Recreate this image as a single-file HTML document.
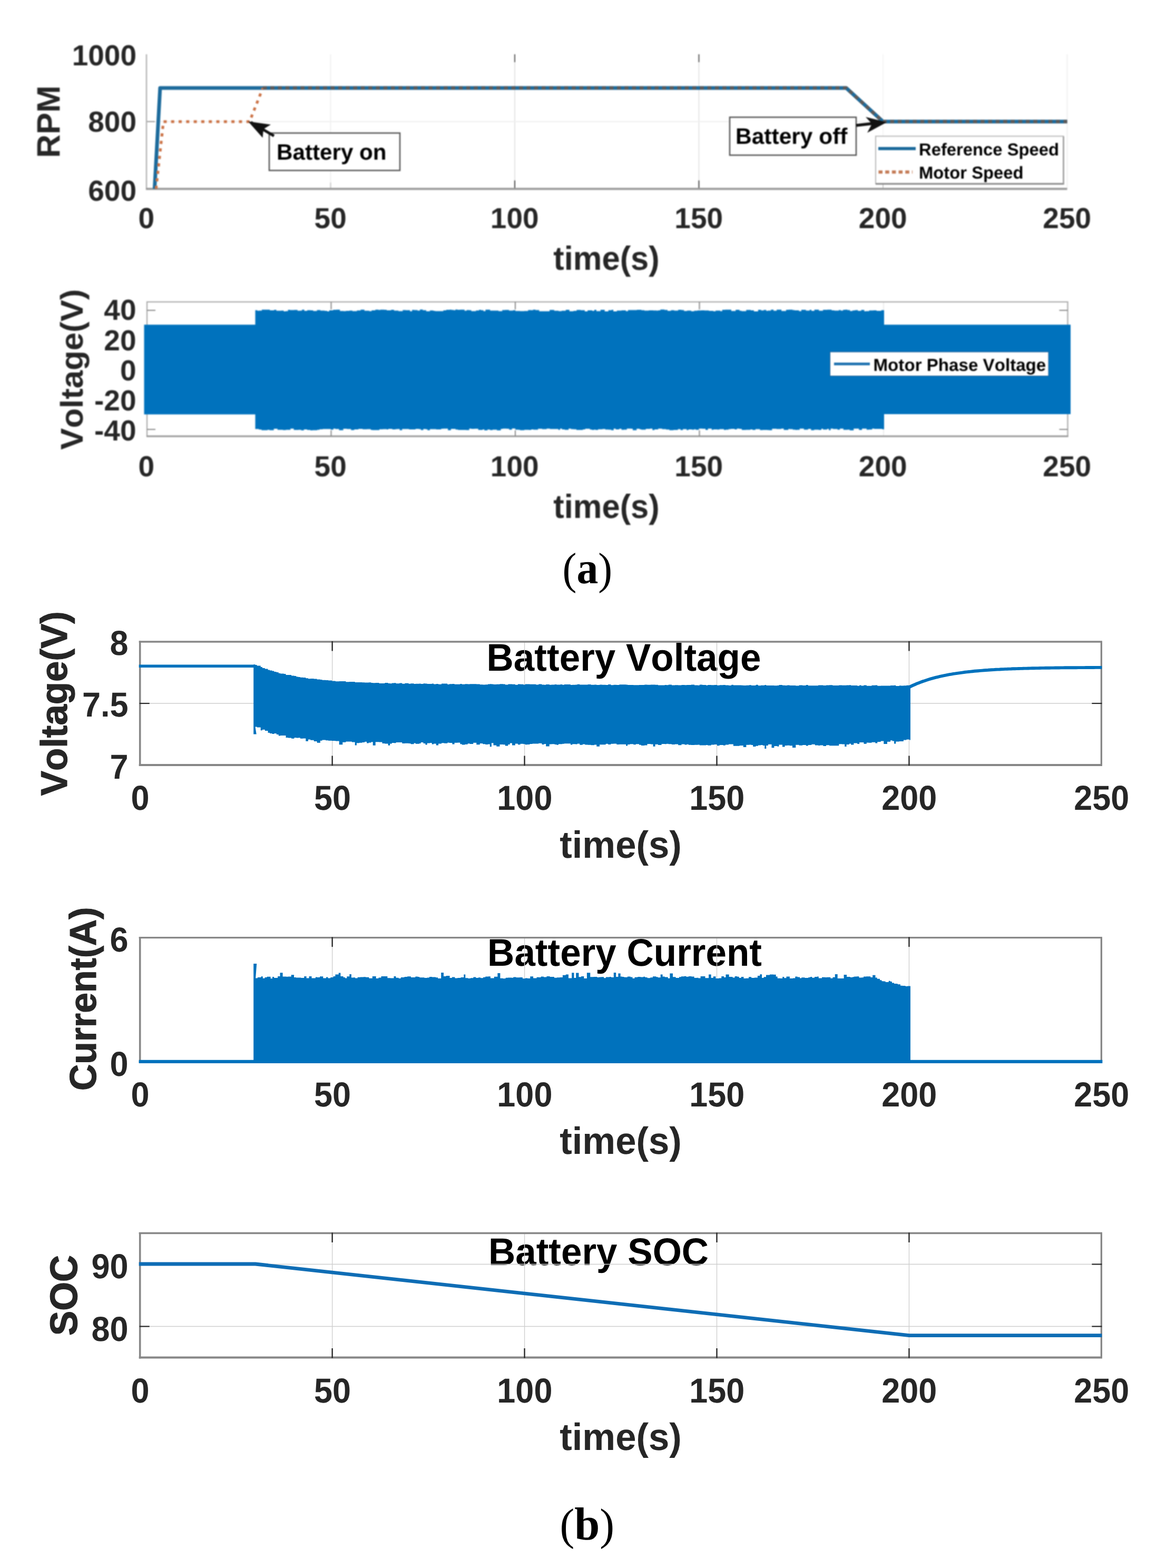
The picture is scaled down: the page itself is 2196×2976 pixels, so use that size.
<!DOCTYPE html>
<html><head><meta charset="utf-8"><title>Figure</title>
<style>html,body{margin:0;padding:0;background:#fff}svg{display:block}text{font-kerning:none;font-feature-settings:"kern" 0;text-rendering:geometricPrecision}</style></head>
<body>
<svg width="2196" height="2976" viewBox="0 0 2196 2976">
<rect width="2196" height="2976" fill="#ffffff"/>
<defs><filter id="soft" color-interpolation-filters="sRGB" filterUnits="userSpaceOnUse" x="0" y="0" width="2196" height="1020"><feGaussianBlur stdDeviation="1.0" color-interpolation-filters="sRGB"/></filter></defs>
<g id="pa" filter="url(#soft)">
<line x1="627.5" y1="103" x2="627.5" y2="358.5" stroke="#ececec" stroke-width="1.6" />
<line x1="977.0" y1="103" x2="977.0" y2="358.5" stroke="#dedede" stroke-width="1.6" />
<line x1="1326.5" y1="103" x2="1326.5" y2="358.5" stroke="#dedede" stroke-width="1.6" />
<line x1="1676.0" y1="103" x2="1676.0" y2="358.5" stroke="#f4f4f4" stroke-width="1.6" />
<line x1="278" y1="230.75" x2="2025.5" y2="230.75" stroke="#efefef" stroke-width="2" />
<line x1="2025.5" y1="103" x2="2025.5" y2="358.5" stroke="#f0f0f0" stroke-width="2" />
<line x1="977.0" y1="103" x2="977.0" y2="118" stroke="#555" stroke-width="2" />
<line x1="977.0" y1="358.5" x2="977.0" y2="342.5" stroke="#444" stroke-width="2" />
<line x1="1326.5" y1="103" x2="1326.5" y2="118" stroke="#555" stroke-width="2" />
<line x1="1326.5" y1="358.5" x2="1326.5" y2="342.5" stroke="#444" stroke-width="2" />
<line x1="627.5" y1="358.5" x2="627.5" y2="346.5" stroke="#c8c8c8" stroke-width="2" />
<line x1="1676.0" y1="358.5" x2="1676.0" y2="346.5" stroke="#c8c8c8" stroke-width="2" />
<line x1="278" y1="230.75" x2="294" y2="230.75" stroke="#9a9a9a" stroke-width="2" />
<line x1="278" y1="103" x2="278" y2="359.5" stroke="#b4b4b4" stroke-width="2.5" />
<line x1="277" y1="358.5" x2="2025.5" y2="358.5" stroke="#9a9a9a" stroke-width="4" />
<polyline points="293.4,358.5 303.9,166.9 1606.1,166.9 1676.0,230.8 2025.5,230.8" fill="none" stroke="#1d6b9c" stroke-width="7" stroke-linejoin="round"/>
<polyline points="296.2,358.5 310.2,230.8 473.7,230.8 498.9,166.9" fill="none" stroke="#cc7448" stroke-width="5.2" stroke-dasharray="6 8.3" stroke-linejoin="round"/>
<polyline points="498.9,166.9 1606.1,166.9 1676.0,230.8 2025.5,230.8" fill="none" stroke="#6e5648" stroke-width="6.4" stroke-dasharray="7.5 6.8" stroke-linejoin="round" opacity="0.8"/>
<rect x="511" y="252.5" width="248" height="71" fill="#ffffff" stroke="#555555" stroke-width="2.5" />
<text transform="translate(525.00,303.00) scale(1,1.0)" font-size="42.2" text-anchor="start" fill="#000" font-weight="bold" font-family='"Liberation Sans", Arial, Helvetica, sans-serif' >Battery on</text>
<path d="M520 258 L476 232" stroke="#111" stroke-width="5" fill="none"/>
<path d="M471 230.5 L514 236.5 L500 245 L498.5 261.5 Z" fill="#111"/>
<rect x="1385" y="222.5" width="240" height="72" fill="#ffffff" stroke="#555555" stroke-width="2.5" />
<text transform="translate(1396.00,273.00) scale(1,1.0)" font-size="42.5" text-anchor="start" fill="#000" font-weight="bold" font-family='"Liberation Sans", Arial, Helvetica, sans-serif' >Battery off</text>
<path d="M1625 238 L1660 234" stroke="#111" stroke-width="5.5" fill="none"/>
<path d="M1683 232 L1643 222 L1655 235 L1646 252 Z" fill="#111"/>
<rect x="1662" y="258.5" width="356.5" height="90" fill="#ffffff" stroke="#b9b9b9" stroke-width="2" />
<line x1="1662" y1="349" x2="2019.5" y2="349" stroke="#8a8a8a" stroke-width="3" />
<line x1="2018.5" y1="259" x2="2018.5" y2="350" stroke="#9a9a9a" stroke-width="2.5" />
<line x1="1667" y1="282" x2="1738" y2="282" stroke="#1d6b9c" stroke-width="6" />
<line x1="1667.5" y1="326.5" x2="1732" y2="326.5" stroke="#c47a55" stroke-width="6" stroke-dasharray="7.5 5.2"/>
<text transform="translate(1744.00,295.30) scale(1,1.0)" font-size="32.8" text-anchor="start" fill="#000" font-weight="bold" font-family='"Liberation Sans", Arial, Helvetica, sans-serif' >Reference Speed</text>
<text transform="translate(1744.00,338.90) scale(1,1.0)" font-size="32.8" text-anchor="start" fill="#000" font-weight="bold" font-family='"Liberation Sans", Arial, Helvetica, sans-serif' >Motor Speed</text>
<text transform="translate(259.00,380.98) scale(1,1.0)" font-size="55" text-anchor="end" fill="#262626" font-weight="bold" font-family='"Liberation Sans", Arial, Helvetica, sans-serif' >600</text>
<text transform="translate(259.00,250.17) scale(1,1.0)" font-size="55" text-anchor="end" fill="#262626" font-weight="bold" font-family='"Liberation Sans", Arial, Helvetica, sans-serif' >800</text>
<text transform="translate(259.00,123.97) scale(1,1.0)" font-size="55" text-anchor="end" fill="#262626" font-weight="bold" font-family='"Liberation Sans", Arial, Helvetica, sans-serif' >1000</text>
<text transform="translate(277.70,433.00) scale(1,1.0)" font-size="55" text-anchor="middle" fill="#262626" font-weight="bold" font-family='"Liberation Sans", Arial, Helvetica, sans-serif' >0</text>
<text transform="translate(627.20,433.00) scale(1,1.0)" font-size="55" text-anchor="middle" fill="#262626" font-weight="bold" font-family='"Liberation Sans", Arial, Helvetica, sans-serif' >50</text>
<text transform="translate(976.70,433.00) scale(1,1.0)" font-size="55" text-anchor="middle" fill="#262626" font-weight="bold" font-family='"Liberation Sans", Arial, Helvetica, sans-serif' >100</text>
<text transform="translate(1326.20,433.00) scale(1,1.0)" font-size="55" text-anchor="middle" fill="#262626" font-weight="bold" font-family='"Liberation Sans", Arial, Helvetica, sans-serif' >150</text>
<text transform="translate(1675.70,433.00) scale(1,1.0)" font-size="55" text-anchor="middle" fill="#262626" font-weight="bold" font-family='"Liberation Sans", Arial, Helvetica, sans-serif' >200</text>
<text transform="translate(2025.20,433.00) scale(1,1.0)" font-size="55" text-anchor="middle" fill="#262626" font-weight="bold" font-family='"Liberation Sans", Arial, Helvetica, sans-serif' >250</text>
<text transform="translate(1151.00,511.80) scale(1,1.03)" font-size="61.5" text-anchor="middle" fill="#262626" font-weight="bold" font-family='"Liberation Sans", Arial, Helvetica, sans-serif' >time(s)</text>
<text transform="translate(113.3,231) rotate(-90) scale(1,1.0)" font-size="61.8" text-anchor="middle" fill="#262626" font-weight="bold" font-family='"Liberation Sans", Arial, Helvetica, sans-serif'>RPM</text>
<line x1="628.5" y1="573" x2="628.5" y2="828" stroke="#ececec" stroke-width="2" />
<line x1="978.0" y1="573" x2="978.0" y2="828" stroke="#ececec" stroke-width="2" />
<line x1="1327.5" y1="573" x2="1327.5" y2="828" stroke="#ececec" stroke-width="2" />
<line x1="1677.0" y1="573" x2="1677.0" y2="828" stroke="#ececec" stroke-width="2" />
<rect x="279" y="573" width="1747.5" height="255" fill="none" stroke="#adadad" stroke-width="2.3" />
<line x1="278" y1="828" x2="2027.5" y2="828" stroke="#9a9a9a" stroke-width="3" />
<line x1="279" y1="589.0" x2="295" y2="589.0" stroke="#8a8a8a" stroke-width="2" />
<line x1="2026.5" y1="589.0" x2="2010.5" y2="589.0" stroke="#8a8a8a" stroke-width="2" />
<line x1="279" y1="815.0" x2="295" y2="815.0" stroke="#8a8a8a" stroke-width="2" />
<line x1="2026.5" y1="815.0" x2="2010.5" y2="815.0" stroke="#8a8a8a" stroke-width="2" />
<polygon points="273.5,616.3 484.5,616.3 484.5,588.7 488.4,588.7 488.4,589.8 491.8,589.8 491.8,589.4 497.0,589.4 497.0,587.8 503.1,587.8 503.1,587.7 508.7,587.7 508.7,587.8 512.2,587.8 512.2,589.0 520.2,589.0 520.2,588.0 524.5,588.0 524.5,589.7 533.2,589.7 533.2,589.5 538.6,589.5 538.6,590.9 541.9,590.9 541.9,590.5 546.6,590.5 546.6,588.1 550.3,588.1 550.3,588.6 558.2,588.6 558.2,588.2 564.7,588.2 564.7,589.7 569.9,589.7 569.9,589.4 573.3,589.4 573.3,587.8 577.5,587.8 577.5,589.9 583.1,589.9 583.1,588.7 589.6,588.7 589.6,589.1 594.4,589.1 594.4,590.3 601.6,590.3 601.6,588.4 608.1,588.4 608.1,589.4 616.3,589.4 616.3,590.1 621.0,590.1 621.0,590.9 624.8,590.9 624.8,589.0 632.3,589.0 632.3,588.1 638.2,588.1 638.2,587.7 645.2,587.7 645.2,590.2 651.7,590.2 651.7,590.5 656.6,590.5 656.6,589.9 663.1,589.9 663.1,589.5 668.9,589.5 668.9,590.4 677.5,590.4 677.5,589.2 684.5,589.2 684.5,587.8 691.7,587.8 691.7,589.8 700.7,589.8 700.7,590.4 705.4,590.4 705.4,588.9 712.4,588.9 712.4,587.7 718.2,587.7 718.2,588.2 721.9,588.2 721.9,587.8 729.5,587.8 729.5,588.0 734.0,588.0 734.0,588.9 742.2,588.9 742.2,587.9 747.9,587.9 747.9,589.4 756.2,589.4 756.2,590.4 764.4,590.4 764.4,588.5 769.9,588.5 769.9,588.8 778.2,588.8 778.2,590.8 782.1,590.8 782.1,588.2 786.5,588.2 786.5,588.4 792.4,588.4 792.4,589.6 797.0,589.6 797.0,587.6 802.5,587.6 802.5,588.8 808.9,588.8 808.9,590.8 816.0,590.8 816.0,589.3 822.7,589.3 822.7,589.9 826.0,589.9 826.0,590.6 833.7,590.6 833.7,590.5 841.5,590.5 841.5,588.9 846.9,588.9 846.9,587.9 853.7,587.9 853.7,587.8 857.1,587.8 857.1,588.3 861.1,588.3 861.1,588.7 864.4,588.7 864.4,587.6 868.3,587.6 868.3,587.9 873.5,587.9 873.5,587.7 881.7,587.7 881.7,589.7 885.6,589.7 885.6,588.4 890.7,588.4 890.7,588.8 894.5,588.8 894.5,590.5 903.4,590.5 903.4,589.2 909.3,589.2 909.3,587.9 912.9,587.9 912.9,588.8 917.5,588.8 917.5,590.4 921.5,590.4 921.5,587.7 930.2,587.7 930.2,589.4 934.1,589.4 934.1,589.4 937.2,589.4 937.2,589.4 946.1,589.4 946.1,590.5 953.3,590.5 953.3,588.5 958.5,588.5 958.5,588.2 966.1,588.2 966.1,589.4 973.8,589.4 973.8,588.7 978.1,588.7 978.1,590.3 987.0,590.3 987.0,590.5 994.9,590.5 994.9,590.3 1002.3,590.3 1002.3,588.4 1008.4,588.4 1008.4,588.8 1011.6,588.8 1011.6,587.7 1016.3,587.7 1016.3,588.5 1023.4,588.5 1023.4,590.8 1029.1,590.8 1029.1,590.7 1038.0,590.7 1038.0,590.8 1043.2,590.8 1043.2,588.3 1047.6,588.3 1047.6,588.3 1051.8,588.3 1051.8,589.7 1060.2,589.7 1060.2,590.4 1066.1,590.4 1066.1,589.8 1073.9,589.8 1073.9,587.9 1080.8,587.9 1080.8,590.7 1088.5,590.7 1088.5,590.1 1094.4,590.1 1094.4,588.2 1102.1,588.2 1102.1,588.7 1109.9,588.7 1109.9,590.9 1115.3,590.9 1115.3,588.9 1124.0,588.9 1124.0,590.0 1128.0,590.0 1128.0,588.0 1131.9,588.0 1131.9,590.6 1139.8,590.6 1139.8,588.1 1147.7,588.1 1147.7,590.9 1154.7,590.9 1154.7,588.8 1161.0,588.8 1161.0,588.0 1164.1,588.0 1164.1,590.9 1170.9,590.9 1170.9,589.4 1179.6,589.4 1179.6,589.1 1187.8,589.1 1187.8,590.4 1192.0,590.4 1192.0,588.4 1196.8,588.4 1196.8,588.4 1203.3,588.4 1203.3,588.5 1208.8,588.5 1208.8,588.0 1217.3,588.0 1217.3,588.8 1223.0,588.8 1223.0,589.6 1231.5,589.6 1231.5,589.0 1240.0,589.0 1240.0,589.3 1246.2,589.3 1246.2,589.4 1249.3,589.4 1249.3,589.1 1253.4,589.1 1253.4,587.6 1261.2,587.6 1261.2,588.2 1267.0,588.2 1267.0,590.0 1273.4,590.0 1273.4,588.7 1279.5,588.7 1279.5,589.5 1287.2,589.5 1287.2,588.0 1293.5,588.0 1293.5,588.4 1298.2,588.4 1298.2,590.2 1304.2,590.2 1304.2,589.5 1311.8,589.5 1311.8,590.7 1317.5,590.7 1317.5,589.7 1323.5,589.7 1323.5,589.3 1330.7,589.3 1330.7,589.1 1336.9,589.1 1336.9,589.2 1345.5,589.2 1345.5,589.9 1353.8,589.9 1353.8,590.8 1358.3,590.8 1358.3,589.5 1367.0,589.5 1367.0,590.4 1370.8,590.4 1370.8,588.0 1376.5,588.0 1376.5,587.8 1380.9,587.8 1380.9,587.8 1387.9,587.8 1387.9,590.2 1396.3,590.2 1396.3,588.1 1403.6,588.1 1403.6,589.8 1407.4,589.8 1407.4,590.6 1416.3,590.6 1416.3,588.3 1425.0,588.3 1425.0,588.9 1430.9,588.9 1430.9,590.9 1438.9,590.9 1438.9,588.1 1444.5,588.1 1444.5,589.3 1449.5,589.3 1449.5,588.3 1454.4,588.3 1454.4,590.0 1457.5,590.0 1457.5,589.5 1463.2,589.5 1463.2,587.7 1468.2,587.7 1468.2,589.7 1474.2,589.7 1474.2,587.8 1483.2,587.8 1483.2,590.2 1492.0,590.2 1492.0,588.0 1496.6,588.0 1496.6,587.7 1504.3,587.7 1504.3,588.5 1508.0,588.5 1508.0,589.0 1516.5,589.0 1516.5,590.4 1521.0,590.4 1521.0,588.1 1529.6,588.1 1529.6,589.5 1536.8,589.5 1536.8,587.9 1540.1,587.9 1540.1,589.9 1545.7,589.9 1545.7,587.8 1554.3,587.8 1554.3,589.7 1562.1,589.7 1562.1,587.9 1570.2,587.9 1570.2,587.8 1578.4,587.8 1578.4,589.1 1583.5,589.1 1583.5,589.5 1592.0,589.5 1592.0,588.5 1595.8,588.5 1595.8,589.4 1600.2,589.4 1600.2,588.0 1604.2,588.0 1604.2,587.8 1608.4,587.8 1608.4,588.6 1613.2,588.6 1613.2,590.2 1618.0,590.2 1618.0,589.3 1622.0,589.3 1622.0,588.8 1625.1,588.8 1625.1,588.4 1628.2,588.4 1628.2,590.1 1634.5,590.1 1634.5,588.2 1640.4,588.2 1640.4,590.7 1644.0,590.7 1644.0,590.4 1649.6,590.4 1649.6,589.3 1657.6,589.3 1657.6,588.9 1663.7,588.9 1663.7,589.9 1672.6,589.9 1672.6,588.8 1678.0,588.8 1678.0,616.3 2032.0,616.3 2032.0,786.0 1678.0,786.0 1678.0,814.7 1674.5,814.7 1674.5,813.9 1666.8,813.9 1666.8,814.0 1659.4,814.0 1659.4,813.6 1655.3,813.6 1655.3,815.3 1649.3,815.3 1649.3,815.4 1644.8,815.4 1644.8,813.5 1636.1,813.5 1636.1,815.9 1630.3,815.9 1630.3,813.5 1627.1,813.5 1627.1,813.6 1620.3,813.6 1620.3,816.7 1612.8,816.7 1612.8,815.6 1608.1,815.6 1608.1,815.8 1600.8,815.8 1600.8,813.5 1594.1,813.5 1594.1,815.6 1589.5,815.6 1589.5,814.2 1581.1,814.2 1581.1,813.6 1576.5,813.6 1576.5,816.6 1573.2,816.6 1573.2,814.1 1569.9,814.1 1569.9,815.3 1562.1,815.3 1562.1,813.7 1558.9,813.7 1558.9,816.1 1553.7,816.1 1553.7,815.4 1545.2,815.4 1545.2,816.5 1539.3,816.5 1539.3,813.9 1533.7,813.9 1533.7,815.5 1525.8,815.5 1525.8,813.5 1521.6,813.5 1521.6,813.5 1517.8,813.5 1517.8,815.8 1512.7,815.8 1512.7,816.1 1509.7,816.1 1509.7,815.4 1504.7,815.4 1504.7,814.5 1499.4,814.5 1499.4,814.2 1496.2,814.2 1496.2,816.1 1487.6,816.1 1487.6,813.6 1482.6,813.6 1482.6,814.2 1473.7,814.2 1473.7,813.7 1465.4,813.7 1465.4,816.5 1460.0,816.5 1460.0,816.2 1456.7,816.2 1456.7,816.0 1447.8,816.0 1447.8,816.2 1442.5,816.2 1442.5,814.5 1433.8,814.5 1433.8,815.9 1428.3,815.9 1428.3,815.0 1424.2,815.0 1424.2,815.7 1415.5,815.7 1415.5,816.0 1407.9,816.0 1407.9,813.9 1403.5,813.9 1403.5,813.4 1398.6,813.4 1398.6,815.0 1394.4,815.0 1394.4,814.0 1387.0,814.0 1387.0,814.4 1382.8,814.4 1382.8,815.6 1377.3,815.6 1377.3,815.9 1374.1,815.9 1374.1,814.5 1365.5,814.5 1365.5,815.3 1361.0,815.3 1361.0,815.0 1353.9,815.0 1353.9,815.7 1350.8,815.7 1350.8,813.5 1343.6,813.5 1343.6,815.9 1339.1,815.9 1339.1,813.7 1333.2,813.7 1333.2,813.5 1326.4,813.5 1326.4,815.7 1320.6,815.7 1320.6,814.7 1317.5,814.7 1317.5,815.4 1313.2,815.4 1313.2,814.9 1306.7,814.9 1306.7,816.3 1303.3,816.3 1303.3,814.6 1296.1,814.6 1296.1,816.3 1291.6,816.3 1291.6,814.5 1286.7,814.5 1286.7,815.9 1278.2,815.9 1278.2,816.6 1270.5,816.6 1270.5,815.2 1264.2,815.2 1264.2,814.5 1256.6,814.5 1256.6,813.5 1249.3,813.5 1249.3,814.9 1242.2,814.9 1242.2,816.3 1238.3,816.3 1238.3,813.4 1233.8,813.4 1233.8,813.9 1225.7,813.9 1225.7,815.4 1217.1,815.4 1217.1,814.7 1214.1,814.7 1214.1,813.7 1208.3,813.7 1208.3,816.6 1201.0,816.6 1201.0,813.8 1197.9,813.8 1197.9,813.5 1189.8,813.5 1189.8,815.4 1184.1,815.4 1184.1,815.8 1179.6,815.8 1179.6,813.8 1175.3,813.8 1175.3,815.0 1168.5,815.0 1168.5,813.4 1164.8,813.4 1164.8,816.5 1160.1,816.5 1160.1,815.4 1155.1,815.4 1155.1,815.3 1148.9,815.3 1148.9,814.2 1143.5,814.2 1143.5,814.8 1135.1,814.8 1135.1,815.9 1130.6,815.9 1130.6,815.6 1127.0,815.6 1127.0,816.1 1123.5,816.1 1123.5,815.2 1119.7,815.2 1119.7,813.7 1110.7,813.7 1110.7,815.0 1106.4,815.0 1106.4,816.0 1097.9,816.0 1097.9,816.1 1094.0,816.1 1094.0,814.8 1088.6,814.8 1088.6,814.5 1083.8,814.5 1083.8,813.4 1079.2,813.4 1079.2,815.7 1071.8,815.7 1071.8,815.1 1066.7,815.1 1066.7,813.6 1063.0,813.6 1063.0,815.7 1059.7,815.7 1059.7,814.2 1052.8,814.2 1052.8,814.2 1047.1,814.2 1047.1,814.3 1043.8,814.3 1043.8,813.5 1037.5,813.5 1037.5,814.6 1029.0,814.6 1029.0,813.7 1021.2,813.7 1021.2,815.4 1012.4,815.4 1012.4,815.0 1008.3,815.0 1008.3,815.9 1003.7,815.9 1003.7,815.7 995.1,815.7 995.1,816.4 987.1,816.4 987.1,815.8 983.8,815.8 983.8,815.5 978.2,815.5 978.2,813.3 971.7,813.3 971.7,815.4 966.3,815.4 966.3,813.7 961.6,813.7 961.6,813.6 954.3,813.6 954.3,813.9 950.6,813.9 950.6,816.7 943.1,816.7 943.1,815.6 935.0,815.6 935.0,816.2 930.0,816.2 930.0,815.2 925.2,815.2 925.2,816.7 919.2,816.7 919.2,815.1 916.1,815.1 916.1,815.9 907.7,815.9 907.7,813.7 900.4,813.7 900.4,813.9 894.4,813.9 894.4,813.5 890.6,813.5 890.6,816.2 884.5,816.2 884.5,816.0 878.0,816.0 878.0,816.0 869.3,816.0 869.3,815.2 864.7,815.2 864.7,813.9 855.9,813.9 855.9,816.6 850.1,816.6 850.1,813.4 841.5,813.4 841.5,813.7 837.3,813.7 837.3,815.1 833.6,815.1 833.6,815.0 827.8,815.0 827.8,814.4 823.1,814.4 823.1,814.4 815.9,814.4 815.9,816.5 811.3,816.5 811.3,814.8 808.2,814.8 808.2,814.2 803.4,814.2 803.4,816.2 798.9,816.2 798.9,814.5 795.4,814.5 795.4,814.1 788.7,814.1 788.7,815.1 781.6,815.1 781.6,815.0 776.3,815.0 776.3,814.2 767.5,814.2 767.5,814.2 763.2,814.2 763.2,816.4 758.6,816.4 758.6,814.2 754.1,814.2 754.1,814.5 750.7,814.5 750.7,815.0 744.5,815.0 744.5,814.0 737.0,814.0 737.0,815.1 734.0,815.1 734.0,814.6 726.9,814.6 726.9,814.8 720.1,814.8 720.1,816.3 712.1,816.3 712.1,816.3 707.0,816.3 707.0,815.9 703.8,815.9 703.8,814.4 696.6,814.4 696.6,814.7 688.3,814.7 688.3,814.0 680.3,814.0 680.3,815.0 672.3,815.0 672.3,816.2 666.2,816.2 666.2,814.2 658.3,814.2 658.3,813.7 651.5,813.7 651.5,816.6 643.5,816.6 643.5,814.3 636.6,814.3 636.6,813.4 632.7,813.4 632.7,815.4 627.8,815.4 627.8,814.3 619.5,814.3 619.5,814.2 612.6,814.2 612.6,814.7 606.4,814.7 606.4,815.7 602.0,815.7 602.0,816.6 598.9,816.6 598.9,816.4 593.5,816.4 593.5,816.7 588.9,816.7 588.9,816.0 582.9,816.0 582.9,815.1 576.8,815.1 576.8,816.7 571.5,816.7 571.5,815.7 566.4,815.7 566.4,815.9 557.6,815.9 557.6,813.4 551.3,813.4 551.3,815.8 542.6,815.8 542.6,816.2 536.9,816.2 536.9,815.7 531.1,815.7 531.1,815.8 526.7,815.8 526.7,813.8 519.7,813.8 519.7,816.4 511.6,816.4 511.6,815.8 507.6,815.8 507.6,816.5 500.2,816.5 500.2,816.5 496.4,816.5 496.4,815.3 491.3,815.3 491.3,814.3 484.5,814.3 484.5,786.5 273.5,786.5" fill="#0072BD"/>
<line x1="628.5" y1="573" x2="628.5" y2="587" stroke="#8a8a8a" stroke-width="2" />
<line x1="628.5" y1="817" x2="628.5" y2="828" stroke="#8a8a8a" stroke-width="2" />
<line x1="978.0" y1="573" x2="978.0" y2="587" stroke="#8a8a8a" stroke-width="2" />
<line x1="978.0" y1="817" x2="978.0" y2="828" stroke="#8a8a8a" stroke-width="2" />
<line x1="1327.5" y1="573" x2="1327.5" y2="587" stroke="#8a8a8a" stroke-width="2" />
<line x1="1327.5" y1="817" x2="1327.5" y2="828" stroke="#8a8a8a" stroke-width="2" />
<rect x="1575.5" y="668" width="414.5" height="45.5" fill="#ffffff" stroke="#2a5f8f" stroke-width="1" />
<line x1="1583" y1="690.7" x2="1651" y2="690.7" stroke="#1a6fae" stroke-width="5" />
<text transform="translate(1657.50,704.30) scale(1,1.0)" font-size="33.15" text-anchor="start" fill="#000" font-weight="bold" font-family='"Liberation Sans", Arial, Helvetica, sans-serif' >Motor Phase Voltage</text>
<text transform="translate(258.50,607.48) scale(1,1.0)" font-size="55" text-anchor="end" fill="#262626" font-weight="bold" font-family='"Liberation Sans", Arial, Helvetica, sans-serif' >40</text>
<text transform="translate(258.50,664.68) scale(1,1.0)" font-size="55" text-anchor="end" fill="#262626" font-weight="bold" font-family='"Liberation Sans", Arial, Helvetica, sans-serif' >20</text>
<text transform="translate(258.50,722.38) scale(1,1.0)" font-size="55" text-anchor="end" fill="#262626" font-weight="bold" font-family='"Liberation Sans", Arial, Helvetica, sans-serif' >0</text>
<text transform="translate(258.50,778.68) scale(1,1.0)" font-size="55" text-anchor="end" fill="#262626" font-weight="bold" font-family='"Liberation Sans", Arial, Helvetica, sans-serif' >-20</text>
<text transform="translate(258.50,835.98) scale(1,1.0)" font-size="55" text-anchor="end" fill="#262626" font-weight="bold" font-family='"Liberation Sans", Arial, Helvetica, sans-serif' >-40</text>
<text transform="translate(277.70,903.50) scale(1,1.0)" font-size="55" text-anchor="middle" fill="#262626" font-weight="bold" font-family='"Liberation Sans", Arial, Helvetica, sans-serif' >0</text>
<text transform="translate(627.20,903.50) scale(1,1.0)" font-size="55" text-anchor="middle" fill="#262626" font-weight="bold" font-family='"Liberation Sans", Arial, Helvetica, sans-serif' >50</text>
<text transform="translate(976.70,903.50) scale(1,1.0)" font-size="55" text-anchor="middle" fill="#262626" font-weight="bold" font-family='"Liberation Sans", Arial, Helvetica, sans-serif' >100</text>
<text transform="translate(1326.20,903.50) scale(1,1.0)" font-size="55" text-anchor="middle" fill="#262626" font-weight="bold" font-family='"Liberation Sans", Arial, Helvetica, sans-serif' >150</text>
<text transform="translate(1675.70,903.50) scale(1,1.0)" font-size="55" text-anchor="middle" fill="#262626" font-weight="bold" font-family='"Liberation Sans", Arial, Helvetica, sans-serif' >200</text>
<text transform="translate(2025.20,903.50) scale(1,1.0)" font-size="55" text-anchor="middle" fill="#262626" font-weight="bold" font-family='"Liberation Sans", Arial, Helvetica, sans-serif' >250</text>
<text transform="translate(1151.00,982.80) scale(1,1.03)" font-size="61.5" text-anchor="middle" fill="#262626" font-weight="bold" font-family='"Liberation Sans", Arial, Helvetica, sans-serif' >time(s)</text>
<text transform="translate(156.9,701.2) rotate(-90) scale(1,0.97)" font-size="61.7" text-anchor="middle" fill="#262626" font-weight="bold" font-family='"Liberation Sans", Arial, Helvetica, sans-serif'>Voltage(V)</text>
</g>
<text transform="translate(1114.8,1108.3) scale(0.95,1)" font-size="85" text-anchor="middle" fill="#000" font-family='"Liberation Serif", "DejaVu Serif", serif'>(<tspan font-weight="bold" font-size="86" dy="-1.00">a</tspan><tspan dy="1.00">)</tspan></text>
<g id="p3">
<text transform="translate(1184.00,1273.30) scale(1,1.03)" font-size="71" text-anchor="middle" fill="#000" font-weight="bold" font-family='"Liberation Sans", Arial, Helvetica, sans-serif' >Battery Voltage</text>
<line x1="630.64" y1="1218" x2="630.64" y2="1452" stroke="#cfcfcf" stroke-width="1.4" />
<line x1="995.5799999999999" y1="1218" x2="995.5799999999999" y2="1452" stroke="#cfcfcf" stroke-width="1.4" />
<line x1="1360.52" y1="1218" x2="1360.52" y2="1452" stroke="#cfcfcf" stroke-width="1.4" />
<line x1="1725.46" y1="1218" x2="1725.46" y2="1452" stroke="#cfcfcf" stroke-width="1.4" />
<line x1="265.7" y1="1335.0" x2="2090.4" y2="1335.0" stroke="#cfcfcf" stroke-width="1.4" />
<line x1="263.7" y1="1218" x2="2092.0" y2="1218" stroke="#878787" stroke-width="3.3" />
<line x1="2090.4" y1="1218" x2="2090.4" y2="1452" stroke="#878787" stroke-width="3.3" />
<line x1="265.7" y1="1216.4" x2="265.7" y2="1454" stroke="#878787" stroke-width="3.6" />
<line x1="263.7" y1="1452" x2="2092.0" y2="1452" stroke="#878787" stroke-width="4" />
<line x1="630.64" y1="1217" x2="630.64" y2="1235.5" stroke="#2a2a2a" stroke-width="2.4" />
<line x1="630.64" y1="1453" x2="630.64" y2="1434.5" stroke="#2a2a2a" stroke-width="2.4" />
<line x1="995.5799999999999" y1="1453" x2="995.5799999999999" y2="1434.5" stroke="#2a2a2a" stroke-width="2.4" />
<line x1="1360.52" y1="1453" x2="1360.52" y2="1434.5" stroke="#2a2a2a" stroke-width="2.4" />
<line x1="1725.46" y1="1217" x2="1725.46" y2="1235.5" stroke="#2a2a2a" stroke-width="2.4" />
<line x1="1725.46" y1="1453" x2="1725.46" y2="1434.5" stroke="#2a2a2a" stroke-width="2.4" />
<line x1="264.7" y1="1335.0" x2="283.7" y2="1335.0" stroke="#2a2a2a" stroke-width="2.2" />
<line x1="2091.4" y1="1335.0" x2="2072.4" y2="1335.0" stroke="#2a2a2a" stroke-width="2.2" />
<polygon points="481.2,1261.2 484.5,1261.2 484.5,1261.9 487.7,1261.9 487.7,1263.4 494.7,1263.4 494.7,1266.0 498.0,1266.0 498.0,1267.9 502.8,1267.9 502.8,1269.5 508.5,1269.5 508.5,1271.5 512.0,1271.5 512.0,1272.4 516.5,1272.4 516.5,1273.4 520.4,1273.4 520.4,1275.0 524.7,1275.0 524.7,1276.1 528.7,1276.1 528.7,1277.8 532.1,1277.8 532.1,1278.4 538.7,1278.4 538.7,1279.0 542.5,1279.0 542.5,1280.9 547.0,1280.9 547.0,1280.9 553.1,1280.9 553.1,1282.6 558.6,1282.6 558.6,1283.0 562.4,1283.0 562.4,1284.4 566.2,1284.4 566.2,1285.0 569.9,1285.0 569.9,1285.8 575.1,1285.8 575.1,1286.0 580.3,1286.0 580.3,1287.2 585.0,1287.2 585.0,1288.2 589.2,1288.2 589.2,1288.0 595.7,1288.0 595.7,1288.4 601.6,1288.4 601.6,1289.4 607.9,1289.4 607.9,1290.1 611.5,1290.1 611.5,1290.7 618.2,1290.7 618.2,1290.9 623.2,1290.9 623.2,1291.6 629.9,1291.6 629.9,1292.5 636.8,1292.5 636.8,1293.2 643.7,1293.2 643.7,1292.9 650.3,1292.9 650.3,1293.0 656.4,1293.0 656.4,1294.3 662.7,1294.3 662.7,1294.0 667.8,1294.0 667.8,1294.1 673.7,1294.1 673.7,1295.1 676.9,1295.1 676.9,1295.0 682.1,1295.0 682.1,1294.9 687.4,1294.9 687.4,1295.2 692.1,1295.2 692.1,1295.4 696.1,1295.4 696.1,1295.5 699.8,1295.5 699.8,1295.2 704.5,1295.2 704.5,1295.9 707.7,1295.9 707.7,1296.3 712.7,1296.3 712.7,1295.9 719.5,1295.9 719.5,1297.0 725.5,1297.0 725.5,1297.1 730.4,1297.1 730.4,1296.1 736.6,1296.1 736.6,1297.1 740.2,1297.1 740.2,1297.2 743.8,1297.2 743.8,1296.4 747.8,1296.4 747.8,1296.3 751.6,1296.3 751.6,1297.2 758.2,1297.2 758.2,1296.6 763.3,1296.6 763.3,1297.7 768.5,1297.7 768.5,1296.7 775.5,1296.7 775.5,1297.8 779.5,1297.8 779.5,1297.2 785.6,1297.2 785.6,1297.9 788.8,1297.9 788.8,1297.8 795.7,1297.8 795.7,1297.4 798.7,1297.4 798.7,1297.9 803.5,1297.9 803.5,1297.3 807.4,1297.3 807.4,1297.6 810.8,1297.6 810.8,1298.0 816.1,1298.0 816.1,1297.9 819.7,1297.9 819.7,1297.5 823.1,1297.5 823.1,1298.4 827.7,1298.4 827.7,1298.1 832.1,1298.1 832.1,1298.7 838.0,1298.7 838.0,1297.5 843.1,1297.5 843.1,1297.6 849.3,1297.6 849.3,1298.9 852.8,1298.9 852.8,1298.3 858.4,1298.3 858.4,1298.1 862.6,1298.1 862.6,1298.8 868.4,1298.8 868.4,1298.7 873.3,1298.7 873.3,1298.1 876.7,1298.1 876.7,1298.8 882.5,1298.8 882.5,1298.2 887.7,1298.2 887.7,1298.6 891.8,1298.6 891.8,1298.2 898.3,1298.2 898.3,1298.2 904.3,1298.2 904.3,1298.4 910.8,1298.4 910.8,1299.2 916.3,1299.2 916.3,1299.4 921.2,1299.4 921.2,1299.2 926.0,1299.2 926.0,1298.5 929.8,1298.5 929.8,1298.3 932.9,1298.3 932.9,1298.6 936.5,1298.6 936.5,1299.0 942.3,1299.0 942.3,1298.7 948.5,1298.7 948.5,1298.3 955.0,1298.3 955.0,1298.4 958.8,1298.4 958.8,1299.4 964.4,1299.4 964.4,1298.6 967.8,1298.6 967.8,1298.5 972.0,1298.5 972.0,1298.7 977.9,1298.7 977.9,1299.7 982.9,1299.7 982.9,1298.4 987.6,1298.4 987.6,1298.8 993.4,1298.8 993.4,1299.6 996.8,1299.6 996.8,1298.4 1000.6,1298.4 1000.6,1298.4 1005.5,1298.4 1005.5,1298.7 1010.5,1298.7 1010.5,1298.8 1017.3,1298.8 1017.3,1299.4 1022.3,1299.4 1022.3,1298.6 1028.4,1298.6 1028.4,1299.4 1032.8,1299.4 1032.8,1299.8 1036.2,1299.8 1036.2,1298.9 1042.8,1298.9 1042.8,1299.8 1046.7,1299.8 1046.7,1299.6 1052.7,1299.6 1052.7,1299.0 1056.4,1299.0 1056.4,1299.6 1060.0,1299.6 1060.0,1299.4 1063.5,1299.4 1063.5,1299.0 1067.3,1299.0 1067.3,1299.8 1070.9,1299.8 1070.9,1299.1 1076.0,1299.1 1076.0,1298.9 1082.9,1298.9 1082.9,1300.0 1086.3,1300.0 1086.3,1299.8 1092.3,1299.8 1092.3,1299.6 1095.7,1299.6 1095.7,1298.8 1100.3,1298.8 1100.3,1299.5 1105.8,1299.5 1105.8,1299.6 1110.4,1299.6 1110.4,1299.4 1115.7,1299.4 1115.7,1299.1 1121.6,1299.1 1121.6,1299.8 1128.0,1299.8 1128.0,1299.5 1132.3,1299.5 1132.3,1300.0 1138.1,1300.0 1138.1,1299.5 1143.0,1299.5 1143.0,1299.8 1149.7,1299.8 1149.7,1300.0 1154.2,1300.0 1154.2,1299.0 1159.4,1299.0 1159.4,1300.3 1164.5,1300.3 1164.5,1299.7 1170.3,1299.7 1170.3,1300.1 1175.4,1300.1 1175.4,1299.3 1181.2,1299.3 1181.2,1299.2 1188.1,1299.2 1188.1,1299.6 1191.2,1299.6 1191.2,1300.0 1195.6,1300.0 1195.6,1300.1 1202.3,1300.1 1202.3,1300.2 1206.9,1300.2 1206.9,1300.2 1213.1,1300.2 1213.1,1299.9 1217.0,1299.9 1217.0,1300.0 1223.3,1300.0 1223.3,1299.6 1228.5,1299.6 1228.5,1299.7 1234.9,1299.7 1234.9,1299.5 1239.6,1299.5 1239.6,1299.6 1243.6,1299.6 1243.6,1299.8 1249.1,1299.8 1249.1,1300.5 1255.6,1300.5 1255.6,1300.5 1261.7,1300.5 1261.7,1300.1 1264.8,1300.1 1264.8,1300.2 1268.8,1300.2 1268.8,1299.6 1274.9,1299.6 1274.9,1300.6 1281.0,1300.6 1281.0,1300.2 1287.2,1300.2 1287.2,1300.4 1293.5,1300.4 1293.5,1300.1 1299.5,1300.1 1299.5,1300.2 1303.5,1300.2 1303.5,1300.1 1306.8,1300.1 1306.8,1300.1 1311.8,1300.1 1311.8,1299.4 1318.1,1299.4 1318.1,1300.4 1324.5,1300.4 1324.5,1300.8 1327.8,1300.8 1327.8,1299.5 1333.2,1299.5 1333.2,1299.9 1340.2,1299.9 1340.2,1300.8 1343.3,1300.8 1343.3,1300.0 1349.7,1300.0 1349.7,1300.3 1355.8,1300.3 1355.8,1300.1 1361.0,1300.1 1361.0,1300.7 1365.7,1300.7 1365.7,1300.3 1372.6,1300.3 1372.6,1300.1 1376.8,1300.1 1376.8,1300.5 1383.0,1300.5 1383.0,1300.9 1388.1,1300.9 1388.1,1299.7 1391.9,1299.7 1391.9,1300.6 1398.1,1300.6 1398.1,1300.5 1403.6,1300.5 1403.6,1300.6 1407.4,1300.6 1407.4,1300.8 1410.8,1300.8 1410.8,1301.0 1416.4,1301.0 1416.4,1300.8 1421.7,1300.8 1421.7,1300.3 1426.0,1300.3 1426.0,1301.1 1429.2,1301.1 1429.2,1300.9 1434.5,1300.9 1434.5,1299.8 1439.0,1299.8 1439.0,1301.2 1443.9,1301.2 1443.9,1300.7 1447.8,1300.7 1447.8,1300.8 1451.3,1300.8 1451.3,1300.0 1454.3,1300.0 1454.3,1300.9 1458.1,1300.9 1458.1,1300.9 1464.5,1300.9 1464.5,1300.9 1469.4,1300.9 1469.4,1301.2 1475.2,1301.2 1475.2,1301.0 1478.5,1301.0 1478.5,1300.1 1485.0,1300.1 1485.0,1300.7 1489.7,1300.7 1489.7,1301.1 1494.2,1301.1 1494.2,1300.5 1498.7,1300.5 1498.7,1301.1 1504.0,1301.1 1504.0,1301.0 1510.3,1301.0 1510.3,1301.4 1516.6,1301.4 1516.6,1300.6 1523.2,1300.6 1523.2,1300.9 1529.8,1300.9 1529.8,1300.1 1533.8,1300.1 1533.8,1301.2 1540.4,1301.2 1540.4,1301.2 1546.8,1301.2 1546.8,1301.3 1553.1,1301.3 1553.1,1300.6 1556.4,1300.6 1556.4,1300.4 1562.4,1300.4 1562.4,1301.0 1568.1,1301.0 1568.1,1300.5 1574.1,1300.5 1574.1,1300.3 1580.4,1300.3 1580.4,1301.0 1586.9,1301.0 1586.9,1300.9 1592.3,1300.9 1592.3,1300.5 1598.1,1300.5 1598.1,1300.8 1603.2,1300.8 1603.2,1300.8 1606.6,1300.8 1606.6,1300.5 1612.0,1300.5 1612.0,1300.3 1615.1,1300.3 1615.1,1301.0 1620.4,1301.0 1620.4,1300.9 1627.2,1300.9 1627.2,1301.7 1631.2,1301.7 1631.2,1300.6 1634.5,1300.6 1634.5,1301.6 1639.4,1301.6 1639.4,1300.5 1644.8,1300.5 1644.8,1301.8 1648.8,1301.8 1648.8,1301.8 1654.5,1301.8 1654.5,1300.7 1661.3,1300.7 1661.3,1300.5 1665.3,1300.5 1665.3,1301.7 1671.7,1301.7 1671.7,1301.5 1677.3,1301.5 1677.3,1301.6 1684.0,1301.6 1684.0,1301.4 1690.1,1301.4 1690.1,1300.9 1693.6,1300.9 1693.6,1300.9 1697.1,1300.9 1697.1,1300.8 1700.3,1300.8 1700.3,1301.9 1706.8,1301.9 1706.8,1301.2 1710.1,1301.2 1710.1,1301.5 1714.9,1301.5 1714.9,1301.3 1720.5,1301.3 1720.5,1300.7 1726.3,1300.7 1726.3,1301.9 1728.0,1301.9 1728.0,1404.4 1726.3,1404.4 1726.3,1403.4 1720.5,1403.4 1720.5,1404.4 1714.9,1404.4 1714.9,1406.9 1710.1,1406.9 1710.1,1407.0 1706.8,1407.0 1706.8,1407.6 1700.3,1407.6 1700.3,1411.4 1697.1,1411.4 1697.1,1406.4 1693.6,1406.4 1693.6,1405.3 1690.1,1405.3 1690.1,1407.8 1684.0,1407.8 1684.0,1411.9 1677.3,1411.9 1677.3,1406.4 1671.7,1406.4 1671.7,1407.9 1665.3,1407.9 1665.3,1410.5 1661.3,1410.5 1661.3,1408.8 1654.5,1408.8 1654.5,1409.8 1648.8,1409.8 1648.8,1409.5 1644.8,1409.5 1644.8,1411.8 1639.4,1411.8 1639.4,1408.9 1634.5,1408.9 1634.5,1409.1 1631.2,1409.1 1631.2,1412.0 1627.2,1412.0 1627.2,1410.6 1620.4,1410.6 1620.4,1413.6 1615.1,1413.6 1615.1,1411.5 1612.0,1411.5 1612.0,1412.9 1606.6,1412.9 1606.6,1416.9 1603.2,1416.9 1603.2,1412.5 1598.1,1412.5 1598.1,1412.3 1592.3,1412.3 1592.3,1415.2 1586.9,1415.2 1586.9,1415.2 1580.4,1415.2 1580.4,1415.3 1574.1,1415.3 1574.1,1414.2 1568.1,1414.2 1568.1,1415.9 1562.4,1415.9 1562.4,1414.5 1556.4,1414.5 1556.4,1415.0 1553.1,1415.0 1553.1,1414.6 1546.8,1414.6 1546.8,1412.7 1540.4,1412.7 1540.4,1414.0 1533.8,1414.0 1533.8,1415.4 1529.8,1415.4 1529.8,1413.9 1523.2,1413.9 1523.2,1414.7 1516.6,1414.7 1516.6,1413.7 1510.3,1413.7 1510.3,1419.0 1504.0,1419.0 1504.0,1415.3 1498.7,1415.3 1498.7,1414.8 1494.2,1414.8 1494.2,1414.9 1489.7,1414.9 1489.7,1417.5 1485.0,1417.5 1485.0,1413.6 1478.5,1413.6 1478.5,1416.8 1475.2,1416.8 1475.2,1415.9 1469.4,1415.9 1469.4,1419.3 1464.5,1419.3 1464.5,1412.7 1458.1,1412.7 1458.1,1415.1 1454.3,1415.1 1454.3,1421.0 1451.3,1421.0 1451.3,1415.1 1447.8,1415.1 1447.8,1414.0 1443.9,1414.0 1443.9,1414.6 1439.0,1414.6 1439.0,1415.8 1434.5,1415.8 1434.5,1417.0 1429.2,1417.0 1429.2,1414.1 1426.0,1414.1 1426.0,1413.4 1421.7,1413.4 1421.7,1413.8 1416.4,1413.8 1416.4,1417.9 1410.8,1417.9 1410.8,1414.9 1407.4,1414.9 1407.4,1415.0 1403.6,1415.0 1403.6,1415.8 1398.1,1415.8 1398.1,1415.8 1391.9,1415.8 1391.9,1412.6 1388.1,1412.6 1388.1,1412.6 1383.0,1412.6 1383.0,1413.5 1376.8,1413.5 1376.8,1414.7 1372.6,1414.7 1372.6,1414.1 1365.7,1414.1 1365.7,1415.3 1361.0,1415.3 1361.0,1413.0 1355.8,1413.0 1355.8,1413.6 1349.7,1413.6 1349.7,1414.8 1343.3,1414.8 1343.3,1414.0 1340.2,1414.0 1340.2,1414.6 1333.2,1414.6 1333.2,1414.4 1327.8,1414.4 1327.8,1413.5 1324.5,1413.5 1324.5,1413.8 1318.1,1413.8 1318.1,1414.0 1311.8,1414.0 1311.8,1413.7 1306.8,1413.7 1306.8,1412.8 1303.5,1412.8 1303.5,1413.5 1299.5,1413.5 1299.5,1412.6 1293.5,1412.6 1293.5,1414.3 1287.2,1414.3 1287.2,1412.5 1281.0,1412.5 1281.0,1413.1 1274.9,1413.1 1274.9,1412.2 1268.8,1412.2 1268.8,1411.8 1264.8,1411.8 1264.8,1412.3 1261.7,1412.3 1261.7,1411.9 1255.6,1411.9 1255.6,1414.1 1249.1,1414.1 1249.1,1412.7 1243.6,1412.7 1243.6,1416.8 1239.6,1416.8 1239.6,1412.6 1234.9,1412.6 1234.9,1412.0 1228.5,1412.0 1228.5,1414.5 1223.3,1414.5 1223.3,1415.0 1217.0,1415.0 1217.0,1413.8 1213.1,1413.8 1213.1,1412.2 1206.9,1412.2 1206.9,1413.3 1202.3,1413.3 1202.3,1412.3 1195.6,1412.3 1195.6,1412.9 1191.2,1412.9 1191.2,1415.6 1188.1,1415.6 1188.1,1412.7 1181.2,1412.7 1181.2,1412.8 1175.4,1412.8 1175.4,1413.1 1170.3,1413.1 1170.3,1411.6 1164.5,1411.6 1164.5,1411.8 1159.4,1411.8 1159.4,1412.9 1154.2,1412.9 1154.2,1411.8 1149.7,1411.8 1149.7,1413.3 1143.0,1413.3 1143.0,1413.3 1138.1,1413.3 1138.1,1416.8 1132.3,1416.8 1132.3,1413.5 1128.0,1413.5 1128.0,1414.2 1121.6,1414.2 1121.6,1413.7 1115.7,1413.7 1115.7,1413.6 1110.4,1413.6 1110.4,1412.6 1105.8,1412.6 1105.8,1413.7 1100.3,1413.7 1100.3,1411.6 1095.7,1411.6 1095.7,1412.4 1092.3,1412.4 1092.3,1412.2 1086.3,1412.2 1086.3,1413.4 1082.9,1413.4 1082.9,1411.3 1076.0,1411.3 1076.0,1411.3 1070.9,1411.3 1070.9,1411.8 1067.3,1411.8 1067.3,1412.3 1063.5,1412.3 1063.5,1412.2 1060.0,1412.2 1060.0,1413.7 1056.4,1413.7 1056.4,1412.9 1052.7,1412.9 1052.7,1412.2 1046.7,1412.2 1046.7,1412.4 1042.8,1412.4 1042.8,1416.4 1036.2,1416.4 1036.2,1411.9 1032.8,1411.9 1032.8,1413.0 1028.4,1413.0 1028.4,1410.8 1022.3,1410.8 1022.3,1411.4 1017.3,1411.4 1017.3,1411.6 1010.5,1411.6 1010.5,1412.1 1005.5,1412.1 1005.5,1413.1 1000.6,1413.1 1000.6,1413.2 996.8,1413.2 996.8,1412.2 993.4,1412.2 993.4,1411.8 987.6,1411.8 987.6,1413.3 982.9,1413.3 982.9,1411.5 977.9,1411.5 977.9,1414.6 972.0,1414.6 972.0,1410.5 967.8,1410.5 967.8,1413.1 964.4,1413.1 964.4,1415.4 958.8,1415.4 958.8,1413.3 955.0,1413.3 955.0,1413.0 948.5,1413.0 948.5,1416.7 942.3,1416.7 942.3,1414.5 936.5,1414.5 936.5,1410.3 932.9,1410.3 932.9,1417.3 929.8,1417.3 929.8,1412.5 926.0,1412.5 926.0,1412.9 921.2,1412.9 921.2,1412.3 916.3,1412.3 916.3,1411.0 910.8,1411.0 910.8,1413.2 904.3,1413.2 904.3,1409.8 898.3,1409.8 898.3,1412.0 891.8,1412.0 891.8,1411.2 887.7,1411.2 887.7,1412.7 882.5,1412.7 882.5,1413.6 876.7,1413.6 876.7,1412.2 873.3,1412.2 873.3,1409.5 868.4,1409.5 868.4,1409.7 862.6,1409.7 862.6,1412.4 858.4,1412.4 858.4,1410.1 852.8,1410.1 852.8,1409.4 849.3,1409.4 849.3,1410.8 843.1,1410.8 843.1,1410.2 838.0,1410.2 838.0,1411.6 832.1,1411.6 832.1,1414.4 827.7,1414.4 827.7,1411.5 823.1,1411.5 823.1,1412.5 819.7,1412.5 819.7,1409.9 816.1,1409.9 816.1,1410.4 810.8,1410.4 810.8,1413.4 807.4,1413.4 807.4,1410.9 803.5,1410.9 803.5,1409.1 798.7,1409.1 798.7,1411.1 795.7,1411.1 795.7,1411.8 788.8,1411.8 788.8,1410.4 785.6,1410.4 785.6,1412.3 779.5,1412.3 779.5,1411.0 775.5,1411.0 775.5,1410.7 768.5,1410.7 768.5,1410.9 763.3,1410.9 763.3,1409.1 758.2,1409.1 758.2,1409.0 751.6,1409.0 751.6,1410.2 747.8,1410.2 747.8,1410.1 743.8,1410.1 743.8,1411.5 740.2,1411.5 740.2,1414.8 736.6,1414.8 736.6,1411.6 730.4,1411.6 730.4,1411.1 725.5,1411.1 725.5,1408.6 719.5,1408.6 719.5,1408.2 712.7,1408.2 712.7,1414.8 707.7,1414.8 707.7,1408.2 704.5,1408.2 704.5,1409.5 699.8,1409.5 699.8,1410.4 696.1,1410.4 696.1,1407.7 692.1,1407.7 692.1,1409.1 687.4,1409.1 687.4,1409.7 682.1,1409.7 682.1,1410.3 676.9,1410.3 676.9,1414.4 673.7,1414.4 673.7,1408.4 667.8,1408.4 667.8,1407.6 662.7,1407.6 662.7,1407.5 656.4,1407.5 656.4,1408.7 650.3,1408.7 650.3,1413.2 643.7,1413.2 643.7,1406.6 636.8,1406.6 636.8,1406.0 629.9,1406.0 629.9,1405.8 623.2,1405.8 623.2,1405.3 618.2,1405.3 618.2,1404.6 611.5,1404.6 611.5,1405.8 607.9,1405.8 607.9,1409.7 601.6,1409.7 601.6,1407.0 595.7,1407.0 595.7,1404.8 589.2,1404.8 589.2,1403.4 585.0,1403.4 585.0,1406.8 580.3,1406.8 580.3,1401.6 575.1,1401.6 575.1,1401.8 569.9,1401.8 569.9,1400.3 566.2,1400.3 566.2,1400.6 562.4,1400.6 562.4,1399.9 558.6,1399.9 558.6,1401.7 553.1,1401.7 553.1,1400.4 547.0,1400.4 547.0,1400.0 542.5,1400.0 542.5,1395.9 538.7,1395.9 538.7,1396.0 532.1,1396.0 532.1,1396.5 528.7,1396.5 528.7,1394.0 524.7,1394.0 524.7,1392.0 520.4,1392.0 520.4,1393.1 516.5,1393.1 516.5,1392.1 512.0,1392.1 512.0,1390.7 508.5,1390.7 508.5,1387.0 502.8,1387.0 502.8,1384.8 498.0,1384.8 498.0,1386.3 494.7,1386.3 494.7,1380.4 487.7,1380.4 487.7,1379.5 484.5,1379.5 486.7,1393.5 481.2,1393.5" fill="#0072BD"/>
<line x1="263.7" y1="1264.2" x2="484.164" y2="1264.2" stroke="#0072BD" stroke-width="5.6" />
<polyline points="1725.5,1304.3 1729.1,1302.5 1732.8,1300.8 1736.4,1299.2 1740.1,1297.6 1743.7,1296.2 1747.4,1294.8 1751.0,1293.4 1754.7,1292.2 1758.3,1291.0 1762.0,1289.8 1765.6,1288.7 1769.3,1287.7 1772.9,1286.7 1776.6,1285.7 1780.2,1284.8 1783.9,1283.9 1787.5,1283.1 1791.1,1282.3 1794.8,1281.6 1798.4,1280.9 1802.1,1280.2 1805.7,1279.6 1809.4,1278.9 1813.0,1278.4 1816.7,1277.8 1820.3,1277.3 1824.0,1276.8 1827.6,1276.3 1831.3,1275.8 1834.9,1275.4 1838.6,1275.0 1842.2,1274.6 1845.9,1274.2 1849.5,1273.8 1853.2,1273.5 1856.8,1273.2 1860.5,1272.9 1864.1,1272.6 1867.8,1272.3 1871.4,1272.0 1875.1,1271.8 1878.7,1271.5 1882.4,1271.3 1886.0,1271.1 1889.7,1270.8 1893.3,1270.6 1897.0,1270.5 1900.6,1270.3 1904.3,1270.1 1907.9,1269.9 1911.6,1269.8 1915.2,1269.6 1918.9,1269.5 1922.5,1269.3 1926.2,1269.2 1929.8,1269.1 1933.5,1269.0 1937.1,1268.9 1940.8,1268.8 1944.4,1268.6 1948.1,1268.6 1951.7,1268.5 1955.4,1268.4 1959.0,1268.3 1962.7,1268.2 1966.3,1268.1 1970.0,1268.1 1973.6,1268.0 1977.3,1267.9 1980.9,1267.9 1984.6,1267.8 1988.2,1267.7 1991.9,1267.7 1995.5,1267.6 1999.2,1267.6 2002.8,1267.5 2006.5,1267.5 2010.1,1267.5 2013.8,1267.4 2017.4,1267.4 2021.1,1267.3 2024.7,1267.3 2028.4,1267.3 2032.0,1267.2 2035.7,1267.2 2039.3,1267.2 2043.0,1267.2 2046.6,1267.1 2050.3,1267.1 2053.9,1267.1 2057.6,1267.1 2061.2,1267.0 2064.9,1267.0 2068.5,1267.0 2072.2,1267.0 2075.8,1267.0 2079.5,1266.9 2083.1,1266.9 2086.8,1266.9 2091.4,1266.9" fill="none" stroke="#0072BD" stroke-width="5.9"/>
<text transform="translate(243.50,1243.31) scale(1,1.045)" font-size="63" text-anchor="end" fill="#262626" font-weight="bold" font-family='"Liberation Sans", Arial, Helvetica, sans-serif' >8</text>
<text transform="translate(243.50,1360.11) scale(1,1.045)" font-size="63" text-anchor="end" fill="#262626" font-weight="bold" font-family='"Liberation Sans", Arial, Helvetica, sans-serif' >7.5</text>
<text transform="translate(243.50,1477.51) scale(1,1.045)" font-size="63" text-anchor="end" fill="#262626" font-weight="bold" font-family='"Liberation Sans", Arial, Helvetica, sans-serif' >7</text>
<text transform="translate(266.00,1537.20) scale(1,1.045)" font-size="63" text-anchor="middle" fill="#262626" font-weight="bold" font-family='"Liberation Sans", Arial, Helvetica, sans-serif' >0</text>
<text transform="translate(630.94,1537.20) scale(1,1.045)" font-size="63" text-anchor="middle" fill="#262626" font-weight="bold" font-family='"Liberation Sans", Arial, Helvetica, sans-serif' >50</text>
<text transform="translate(995.88,1537.20) scale(1,1.045)" font-size="63" text-anchor="middle" fill="#262626" font-weight="bold" font-family='"Liberation Sans", Arial, Helvetica, sans-serif' >100</text>
<text transform="translate(1360.82,1537.20) scale(1,1.045)" font-size="63" text-anchor="middle" fill="#262626" font-weight="bold" font-family='"Liberation Sans", Arial, Helvetica, sans-serif' >150</text>
<text transform="translate(1725.76,1537.20) scale(1,1.045)" font-size="63" text-anchor="middle" fill="#262626" font-weight="bold" font-family='"Liberation Sans", Arial, Helvetica, sans-serif' >200</text>
<text transform="translate(2090.70,1537.20) scale(1,1.045)" font-size="63" text-anchor="middle" fill="#262626" font-weight="bold" font-family='"Liberation Sans", Arial, Helvetica, sans-serif' >250</text>
<text transform="translate(1178.00,1627.50) scale(1,1.02)" font-size="70.7" text-anchor="middle" fill="#262626" font-weight="bold" font-family='"Liberation Sans", Arial, Helvetica, sans-serif' >time(s)</text>
<text transform="translate(127.3,1335.3) rotate(-90) scale(1,1.0)" font-size="70.8" text-anchor="middle" fill="#262626" stroke="#262626" stroke-width="1.1" stroke-linejoin="round" font-weight="bold" font-family='"Liberation Sans", Arial, Helvetica, sans-serif'>Voltage(V)</text>
</g>
<g id="p4">
<text transform="translate(1185.50,1832.80) scale(1,1.03)" font-size="71" text-anchor="middle" fill="#000" font-weight="bold" font-family='"Liberation Sans", Arial, Helvetica, sans-serif' >Battery Current</text>
<line x1="630.64" y1="1779.6" x2="630.64" y2="2015.2" stroke="#cfcfcf" stroke-width="1.4" />
<line x1="995.5799999999999" y1="1779.6" x2="995.5799999999999" y2="2015.2" stroke="#cfcfcf" stroke-width="1.4" />
<line x1="1360.52" y1="1779.6" x2="1360.52" y2="2015.2" stroke="#cfcfcf" stroke-width="1.4" />
<line x1="1725.46" y1="1779.6" x2="1725.46" y2="2015.2" stroke="#cfcfcf" stroke-width="1.4" />
<line x1="263.7" y1="1779.6" x2="2092.0" y2="1779.6" stroke="#878787" stroke-width="3.3" />
<line x1="2090.4" y1="1779.6" x2="2090.4" y2="2015.2" stroke="#878787" stroke-width="3.3" />
<line x1="265.7" y1="1778.0" x2="265.7" y2="2017.2" stroke="#878787" stroke-width="3.6" />
<line x1="263.7" y1="2015.2" x2="2092.0" y2="2015.2" stroke="#878787" stroke-width="4" />
<line x1="630.64" y1="1778.6" x2="630.64" y2="1797.1" stroke="#2a2a2a" stroke-width="2.4" />
<line x1="630.64" y1="2016.2" x2="630.64" y2="1997.7" stroke="#2a2a2a" stroke-width="2.4" />
<line x1="995.5799999999999" y1="2016.2" x2="995.5799999999999" y2="1997.7" stroke="#2a2a2a" stroke-width="2.4" />
<line x1="1360.52" y1="2016.2" x2="1360.52" y2="1997.7" stroke="#2a2a2a" stroke-width="2.4" />
<line x1="1725.46" y1="1778.6" x2="1725.46" y2="1797.1" stroke="#2a2a2a" stroke-width="2.4" />
<line x1="1725.46" y1="2016.2" x2="1725.46" y2="1997.7" stroke="#2a2a2a" stroke-width="2.4" />
<polygon points="481.2,1829.0 487.2,1829.0 485.2,1856.5 488.9,1856.5 488.9,1855.0 495.5,1855.0 495.5,1853.3 498.8,1853.3 498.8,1856.7 502.6,1856.7 502.6,1854.9 506.6,1854.9 506.6,1853.7 513.6,1853.7 513.6,1857.2 517.0,1857.2 517.0,1854.1 520.2,1854.1 520.2,1856.0 527.1,1856.0 527.1,1852.9 531.5,1852.9 531.5,1846.3 536.6,1846.3 536.6,1853.6 543.3,1853.6 543.3,1853.8 546.8,1853.8 546.8,1853.6 552.7,1853.6 552.7,1850.2 558.1,1850.2 558.1,1855.0 561.9,1855.0 561.9,1855.5 568.2,1855.5 568.2,1855.4 571.4,1855.4 571.4,1856.0 577.3,1856.0 577.3,1853.0 581.6,1853.0 581.6,1856.5 586.6,1856.5 586.6,1852.9 591.5,1852.9 591.5,1856.6 595.3,1856.6 595.3,1856.5 598.9,1856.5 598.9,1854.4 601.9,1854.4 601.9,1855.1 607.0,1855.1 607.0,1853.3 613.3,1853.3 613.3,1856.6 619.1,1856.6 619.1,1854.5 622.4,1854.5 622.4,1856.6 627.3,1856.6 627.3,1855.1 632.5,1855.1 632.5,1852.9 636.4,1852.9 636.4,1849.4 642.7,1849.4 642.7,1846.4 646.4,1846.4 646.4,1852.9 651.7,1852.9 651.7,1855.1 655.1,1855.1 655.1,1856.6 658.3,1856.6 658.3,1853.3 663.3,1853.3 663.3,1849.0 666.9,1849.0 666.9,1855.4 670.5,1855.4 670.5,1855.3 674.1,1855.3 674.1,1856.4 678.7,1856.4 678.7,1854.7 683.8,1854.7 683.8,1854.5 689.9,1854.5 689.9,1854.3 694.2,1854.3 694.2,1854.7 700.4,1854.7 700.4,1856.8 706.8,1856.8 706.8,1853.0 713.7,1853.0 713.7,1856.9 718.4,1856.9 718.4,1855.6 723.5,1855.6 723.5,1853.1 728.5,1853.1 728.5,1852.9 735.4,1852.9 735.4,1856.2 740.9,1856.2 740.9,1856.4 747.5,1856.4 747.5,1853.0 751.5,1853.0 751.5,1855.8 756.7,1855.8 756.7,1856.9 760.7,1856.9 760.7,1855.1 767.5,1855.1 767.5,1854.1 773.1,1854.1 773.1,1853.3 779.9,1853.3 779.9,1855.1 784.8,1855.1 784.8,1855.1 788.3,1855.1 788.3,1853.4 792.9,1853.4 792.9,1854.1 796.2,1854.1 796.2,1855.2 801.7,1855.2 801.7,1855.3 805.5,1855.3 805.5,1855.9 810.7,1855.9 810.7,1855.5 814.9,1855.5 814.9,1853.9 820.0,1853.9 820.0,1854.5 823.0,1854.5 823.0,1854.4 827.0,1854.4 827.0,1855.2 831.1,1855.2 831.1,1857.1 837.2,1857.1 837.2,1846.1 842.0,1846.1 842.0,1853.1 846.7,1853.1 846.7,1851.9 853.6,1851.9 853.6,1856.1 857.9,1856.1 857.9,1854.4 863.4,1854.4 863.4,1856.5 868.4,1856.5 868.4,1856.1 874.5,1856.1 874.5,1854.9 880.3,1854.9 880.3,1849.5 883.3,1849.5 883.3,1856.2 888.3,1856.2 888.3,1857.0 893.0,1857.0 893.0,1856.2 898.4,1856.2 898.4,1854.5 903.3,1854.5 903.3,1856.0 907.8,1856.0 907.8,1855.2 912.1,1855.2 912.1,1856.3 917.1,1856.3 917.1,1854.8 921.3,1854.8 921.3,1853.4 926.6,1853.4 926.6,1853.2 930.9,1853.2 930.9,1856.5 937.8,1856.5 937.8,1853.7 944.4,1853.7 944.4,1847.0 949.4,1847.0 949.4,1856.8 954.6,1856.8 954.6,1857.2 959.6,1857.2 959.6,1855.8 964.1,1855.8 964.1,1855.4 970.9,1855.4 970.9,1855.8 974.3,1855.8 974.3,1854.4 979.5,1854.4 979.5,1855.3 986.4,1855.3 986.4,1854.9 991.9,1854.9 991.9,1857.2 997.0,1857.2 997.0,1856.4 1001.2,1856.4 1001.2,1857.1 1006.3,1857.1 1006.3,1853.3 1012.1,1853.3 1012.1,1856.4 1018.6,1856.4 1018.6,1854.7 1022.8,1854.7 1022.8,1855.1 1026.5,1855.1 1026.5,1853.6 1031.9,1853.6 1031.9,1854.4 1037.5,1854.4 1037.5,1853.0 1043.6,1853.0 1043.6,1854.1 1046.6,1854.1 1046.6,1854.1 1052.0,1854.1 1052.0,1855.7 1057.0,1855.7 1057.0,1855.2 1062.6,1855.2 1062.6,1855.1 1067.9,1855.1 1067.9,1850.8 1073.9,1850.8 1073.9,1849.4 1079.0,1849.4 1079.0,1856.4 1085.2,1856.4 1085.2,1846.2 1089.5,1846.2 1089.5,1855.9 1093.2,1855.9 1093.2,1846.5 1098.5,1846.5 1098.5,1854.3 1103.1,1854.3 1103.1,1853.0 1108.4,1853.0 1108.4,1857.0 1113.9,1857.0 1113.9,1846.2 1120.3,1846.2 1120.3,1854.2 1126.6,1854.2 1126.6,1854.1 1133.4,1854.1 1133.4,1855.0 1137.4,1855.0 1137.4,1854.5 1141.3,1854.5 1141.3,1854.2 1146.2,1854.2 1146.2,1856.3 1149.9,1856.3 1149.9,1854.4 1156.8,1854.4 1156.8,1854.1 1160.2,1854.1 1160.2,1855.1 1164.8,1855.1 1164.8,1846.0 1169.2,1846.0 1169.2,1853.9 1173.4,1853.9 1173.4,1847.5 1177.7,1847.5 1177.7,1853.5 1181.1,1853.5 1181.1,1854.0 1184.6,1854.0 1184.6,1854.8 1190.9,1854.8 1190.9,1853.5 1196.7,1853.5 1196.7,1854.5 1200.6,1854.5 1200.6,1857.0 1204.5,1857.0 1204.5,1854.8 1210.3,1854.8 1210.3,1853.9 1215.7,1853.9 1215.7,1854.4 1221.1,1854.4 1221.1,1853.7 1224.6,1853.7 1224.6,1855.1 1228.7,1855.1 1228.7,1856.2 1234.3,1856.2 1234.3,1855.3 1238.9,1855.3 1238.9,1853.2 1245.3,1853.2 1245.3,1854.2 1248.7,1854.2 1248.7,1855.3 1253.7,1855.3 1253.7,1849.6 1257.6,1849.6 1257.6,1853.4 1261.7,1853.4 1261.7,1854.6 1267.8,1854.6 1267.8,1856.7 1271.4,1856.7 1271.4,1847.6 1277.0,1847.6 1277.0,1854.3 1282.6,1854.3 1282.6,1855.9 1289.0,1855.9 1289.0,1854.3 1292.8,1854.3 1292.8,1853.3 1298.7,1853.3 1298.7,1852.7 1302.3,1852.7 1302.3,1853.7 1306.9,1853.7 1306.9,1853.0 1312.4,1853.0 1312.4,1853.6 1317.7,1853.6 1317.7,1856.0 1322.4,1856.0 1322.4,1855.8 1325.4,1855.8 1325.4,1856.5 1329.6,1856.5 1329.6,1853.0 1335.0,1853.0 1335.0,1853.0 1338.5,1853.0 1338.5,1856.3 1345.1,1856.3 1345.1,1849.6 1349.7,1849.6 1349.7,1856.1 1353.8,1856.1 1353.8,1853.2 1358.5,1853.2 1358.5,1856.9 1364.5,1856.9 1364.5,1856.5 1369.3,1856.5 1369.3,1853.0 1374.0,1853.0 1374.0,1855.1 1377.5,1855.1 1377.5,1849.6 1383.7,1849.6 1383.7,1853.9 1390.6,1853.9 1390.6,1855.6 1394.6,1855.6 1394.6,1853.1 1399.3,1853.1 1399.3,1853.7 1402.8,1853.7 1402.8,1855.9 1406.8,1855.9 1406.8,1853.9 1411.5,1853.9 1411.5,1856.9 1415.7,1856.9 1415.7,1856.7 1421.0,1856.7 1421.0,1854.3 1426.2,1854.3 1426.2,1856.1 1431.8,1856.1 1431.8,1855.4 1437.9,1855.4 1437.9,1852.0 1442.3,1852.0 1442.3,1849.3 1446.1,1849.3 1446.1,1855.9 1449.6,1855.9 1449.6,1854.2 1454.0,1854.2 1454.0,1850.5 1461.0,1850.5 1461.0,1849.5 1467.9,1849.5 1467.9,1849.8 1472.7,1849.8 1472.7,1853.6 1475.7,1853.6 1475.7,1856.8 1481.2,1856.8 1481.2,1856.9 1485.2,1856.9 1485.2,1853.9 1488.3,1853.9 1488.3,1856.2 1492.5,1856.2 1492.5,1853.6 1498.9,1853.6 1498.9,1856.9 1505.0,1856.9 1505.0,1856.5 1509.3,1856.5 1509.3,1853.6 1513.6,1853.6 1513.6,1854.4 1518.1,1854.4 1518.1,1856.5 1521.3,1856.5 1521.3,1855.3 1527.5,1855.3 1527.5,1855.9 1534.3,1855.9 1534.3,1855.0 1538.0,1855.0 1538.0,1854.1 1541.3,1854.1 1541.3,1855.8 1546.0,1855.8 1546.0,1853.9 1550.8,1853.9 1550.8,1853.6 1553.8,1853.6 1553.8,1856.5 1560.0,1856.5 1560.0,1854.7 1565.6,1854.7 1565.6,1855.1 1570.0,1855.1 1570.0,1854.7 1576.3,1854.7 1576.3,1856.8 1580.5,1856.8 1580.5,1854.7 1584.8,1854.7 1584.8,1849.0 1589.7,1849.0 1589.7,1857.1 1596.1,1857.1 1596.1,1857.1 1601.6,1857.1 1601.6,1850.0 1607.1,1850.0 1607.1,1854.1 1613.9,1854.1 1613.9,1854.9 1618.1,1854.9 1618.1,1854.3 1621.2,1854.3 1621.2,1853.6 1626.0,1853.6 1626.0,1853.2 1630.5,1853.2 1630.5,1855.4 1635.6,1855.4 1635.6,1855.3 1639.0,1855.3 1639.0,1853.6 1644.2,1853.6 1644.2,1853.3 1648.2,1853.3 1648.2,1853.2 1652.3,1853.2 1652.3,1855.0 1656.2,1855.0 1656.2,1850.7 1661.5,1850.7 1661.5,1855.4 1664.8,1855.4 1664.8,1857.8 1670.0,1857.8 1670.0,1860.3 1673.5,1860.3 1673.5,1862.3 1676.9,1862.3 1676.9,1862.5 1680.6,1862.5 1680.6,1864.0 1686.7,1864.0 1686.7,1861.8 1689.9,1861.8 1689.9,1863.1 1692.9,1863.1 1692.9,1865.4 1697.1,1865.4 1697.1,1866.9 1703.7,1866.9 1703.7,1868.2 1709.0,1868.2 1709.0,1870.8 1712.6,1870.8 1712.6,1870.9 1718.7,1870.9 1718.7,1872.1 1722.2,1872.1 1722.2,1871.6 1728.0,1871.6 1728.0,2015.2 481.2,2015.2" fill="#0072BD"/>
<line x1="263.7" y1="2014.9" x2="2092.4" y2="2014.9" stroke="#0072BD" stroke-width="6.1" />
<text transform="translate(243.50,1805.91) scale(1,1.045)" font-size="63" text-anchor="end" fill="#262626" font-weight="bold" font-family='"Liberation Sans", Arial, Helvetica, sans-serif' >6</text>
<text transform="translate(243.50,2041.71) scale(1,1.045)" font-size="63" text-anchor="end" fill="#262626" font-weight="bold" font-family='"Liberation Sans", Arial, Helvetica, sans-serif' >0</text>
<text transform="translate(266.00,2100.20) scale(1,1.045)" font-size="63" text-anchor="middle" fill="#262626" font-weight="bold" font-family='"Liberation Sans", Arial, Helvetica, sans-serif' >0</text>
<text transform="translate(630.94,2100.20) scale(1,1.045)" font-size="63" text-anchor="middle" fill="#262626" font-weight="bold" font-family='"Liberation Sans", Arial, Helvetica, sans-serif' >50</text>
<text transform="translate(995.88,2100.20) scale(1,1.045)" font-size="63" text-anchor="middle" fill="#262626" font-weight="bold" font-family='"Liberation Sans", Arial, Helvetica, sans-serif' >100</text>
<text transform="translate(1360.82,2100.20) scale(1,1.045)" font-size="63" text-anchor="middle" fill="#262626" font-weight="bold" font-family='"Liberation Sans", Arial, Helvetica, sans-serif' >150</text>
<text transform="translate(1725.76,2100.20) scale(1,1.045)" font-size="63" text-anchor="middle" fill="#262626" font-weight="bold" font-family='"Liberation Sans", Arial, Helvetica, sans-serif' >200</text>
<text transform="translate(2090.70,2100.20) scale(1,1.045)" font-size="63" text-anchor="middle" fill="#262626" font-weight="bold" font-family='"Liberation Sans", Arial, Helvetica, sans-serif' >250</text>
<text transform="translate(1178.00,2190.30) scale(1,1.02)" font-size="70.7" text-anchor="middle" fill="#262626" font-weight="bold" font-family='"Liberation Sans", Arial, Helvetica, sans-serif' >time(s)</text>
<text transform="translate(181.7,1895.8) rotate(-90) scale(1,1.02)" font-size="69.7" text-anchor="middle" fill="#262626" stroke="#262626" stroke-width="1.1" stroke-linejoin="round" font-weight="bold" font-family='"Liberation Sans", Arial, Helvetica, sans-serif'>Current(A)</text>
</g>
<g id="p5">
<text transform="translate(1136.00,2400.80) scale(1,1.03)" font-size="71" text-anchor="middle" fill="#000" font-weight="bold" font-family='"Liberation Sans", Arial, Helvetica, sans-serif' >Battery SOC</text>
<line x1="630.64" y1="2340.5" x2="630.64" y2="2576.5" stroke="#cfcfcf" stroke-width="1.4" />
<line x1="995.5799999999999" y1="2340.5" x2="995.5799999999999" y2="2576.5" stroke="#cfcfcf" stroke-width="1.4" />
<line x1="1360.52" y1="2340.5" x2="1360.52" y2="2576.5" stroke="#cfcfcf" stroke-width="1.4" />
<line x1="1725.46" y1="2340.5" x2="1725.46" y2="2576.5" stroke="#cfcfcf" stroke-width="1.4" />
<line x1="265.7" y1="2399.5" x2="2090.4" y2="2399.5" stroke="#cfcfcf" stroke-width="1.4" />
<line x1="265.7" y1="2517.5" x2="2090.4" y2="2517.5" stroke="#cfcfcf" stroke-width="1.4" />
<line x1="263.7" y1="2340.5" x2="2092.0" y2="2340.5" stroke="#878787" stroke-width="3.3" />
<line x1="2090.4" y1="2340.5" x2="2090.4" y2="2576.5" stroke="#878787" stroke-width="3.3" />
<line x1="265.7" y1="2338.9" x2="265.7" y2="2578.5" stroke="#878787" stroke-width="3.6" />
<line x1="263.7" y1="2576.5" x2="2092.0" y2="2576.5" stroke="#878787" stroke-width="4" />
<line x1="630.64" y1="2339.5" x2="630.64" y2="2358.0" stroke="#2a2a2a" stroke-width="2.4" />
<line x1="630.64" y1="2577.5" x2="630.64" y2="2559.0" stroke="#2a2a2a" stroke-width="2.4" />
<line x1="995.5799999999999" y1="2577.5" x2="995.5799999999999" y2="2559.0" stroke="#2a2a2a" stroke-width="2.4" />
<line x1="1360.52" y1="2339.5" x2="1360.52" y2="2358.0" stroke="#2a2a2a" stroke-width="2.4" />
<line x1="1360.52" y1="2577.5" x2="1360.52" y2="2559.0" stroke="#2a2a2a" stroke-width="2.4" />
<line x1="1725.46" y1="2339.5" x2="1725.46" y2="2358.0" stroke="#2a2a2a" stroke-width="2.4" />
<line x1="1725.46" y1="2577.5" x2="1725.46" y2="2559.0" stroke="#2a2a2a" stroke-width="2.4" />
<line x1="264.7" y1="2399.5" x2="283.7" y2="2399.5" stroke="#2a2a2a" stroke-width="2.2" />
<line x1="2091.4" y1="2399.5" x2="2072.4" y2="2399.5" stroke="#2a2a2a" stroke-width="2.2" />
<line x1="264.7" y1="2517.5" x2="283.7" y2="2517.5" stroke="#2a2a2a" stroke-width="2.2" />
<line x1="2091.4" y1="2517.5" x2="2072.4" y2="2517.5" stroke="#2a2a2a" stroke-width="2.2" />
<polyline points="263.7,2399.5 484.7,2399.5 1725.5,2535.2 2091.4,2535.2" fill="none" stroke="#0f6db5" stroke-width="6.8" stroke-linejoin="round" transform="translate(0,-0.5)"/>
<text transform="translate(243.50,2426.11) scale(1,1.045)" font-size="63" text-anchor="end" fill="#262626" font-weight="bold" font-family='"Liberation Sans", Arial, Helvetica, sans-serif' >90</text>
<text transform="translate(243.50,2544.71) scale(1,1.045)" font-size="63" text-anchor="end" fill="#262626" font-weight="bold" font-family='"Liberation Sans", Arial, Helvetica, sans-serif' >80</text>
<text transform="translate(266.00,2662.00) scale(1,1.045)" font-size="63" text-anchor="middle" fill="#262626" font-weight="bold" font-family='"Liberation Sans", Arial, Helvetica, sans-serif' >0</text>
<text transform="translate(630.94,2662.00) scale(1,1.045)" font-size="63" text-anchor="middle" fill="#262626" font-weight="bold" font-family='"Liberation Sans", Arial, Helvetica, sans-serif' >50</text>
<text transform="translate(995.88,2662.00) scale(1,1.045)" font-size="63" text-anchor="middle" fill="#262626" font-weight="bold" font-family='"Liberation Sans", Arial, Helvetica, sans-serif' >100</text>
<text transform="translate(1360.82,2662.00) scale(1,1.045)" font-size="63" text-anchor="middle" fill="#262626" font-weight="bold" font-family='"Liberation Sans", Arial, Helvetica, sans-serif' >150</text>
<text transform="translate(1725.76,2662.00) scale(1,1.045)" font-size="63" text-anchor="middle" fill="#262626" font-weight="bold" font-family='"Liberation Sans", Arial, Helvetica, sans-serif' >200</text>
<text transform="translate(2090.70,2662.00) scale(1,1.045)" font-size="63" text-anchor="middle" fill="#262626" font-weight="bold" font-family='"Liberation Sans", Arial, Helvetica, sans-serif' >250</text>
<text transform="translate(1178.00,2751.50) scale(1,1.02)" font-size="70.7" text-anchor="middle" fill="#262626" font-weight="bold" font-family='"Liberation Sans", Arial, Helvetica, sans-serif' >time(s)</text>
<text transform="translate(146,2458.5) rotate(-90) scale(1,1.03)" font-size="70.5" text-anchor="middle" fill="#262626" stroke="#262626" stroke-width="1.3" stroke-linejoin="round" font-weight="bold" font-family='"Liberation Sans", Arial, Helvetica, sans-serif'>SOC</text>
</g>
<text transform="translate(1114.3,2922) scale(0.982,1)" font-size="85" text-anchor="middle" fill="#000" font-family='"Liberation Serif", "DejaVu Serif", serif'>(<tspan font-weight="bold" font-size="88" dy="-0.40">b</tspan><tspan dy="0.40">)</tspan></text>
</svg>
</body></html>
